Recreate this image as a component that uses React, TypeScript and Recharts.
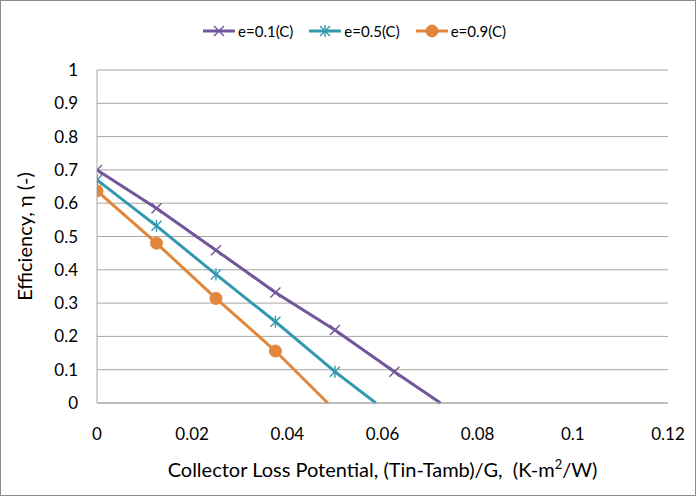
import React from 'react';
import { LineChart, Line, XAxis, YAxis, CartesianGrid, Legend, Label } from 'recharts';

const xPoints = [0, 0.0125, 0.025, 0.0375, 0.05, 0.0625];
const eff01 = [0.7, 0.585, 0.459, 0.332, 0.219, 0.094];
const eff05 = [0.67, 0.532, 0.386, 0.244, 0.094];
const eff09 = [0.637, 0.48, 0.314, 0.156];
const zeroX01 = 0.0722;
const zeroX05 = 0.0586;
const zeroX09 = 0.0485;
const xTicks = [0, 0.02, 0.04, 0.06, 0.08, 0.1, 0.12];
const yTicks = [0, 0.1, 0.2, 0.3, 0.4, 0.5, 0.6, 0.7, 0.8, 0.9, 1];
const seriesNames = ['e=0.1(C)', 'e=0.5(C)', 'e=0.9(C)'];
const seriesColors = ['#71579A', '#3399B0', '#E0873C'];
const markerKinds = ['cross', 'star', 'circle'];

const FONT = 'Lato, "Open Sans", sans-serif';

const build = (effs: number[], zeroX: number) => [
  ...effs.map((y, i) => ({ x: xPoints[i], y, marker: true })),
  { x: zeroX, y: 0, marker: false },
];

const data01 = build(eff01, zeroX01);
const data05 = build(eff05, zeroX05);
const data09 = build(eff09, zeroX09);
const allData = [data01, data05, data09];

const Marker = ({ kind, cx, cy, color }: { kind: string; cx: number; cy: number; color: string }) => {
  const s = 5;
  if (kind === 'circle') {
    return <circle cx={cx} cy={cy} r={6} fill={color} stroke={color} />;
  }
  return (
    <g stroke={color} strokeWidth={1.4} fill="none">
      <line x1={cx - s} y1={cy - s} x2={cx + s} y2={cy + s} />
      <line x1={cx - s} y1={cy + s} x2={cx + s} y2={cy - s} />
      {kind === 'star' && <line x1={cx} y1={cy - s - 1} x2={cx} y2={cy + s + 1} />}
    </g>
  );
};

const makeDot = (kind: string, color: string) => (props: any) => {
  const { cx, cy, payload, index } = props;
  if (!payload || !payload.marker || cx == null || cy == null) {
    return <g key={`d-${kind}-${index}`} />;
  }
  return (
    <g key={`d-${kind}-${index}`}>
      <Marker kind={kind} cx={cx} cy={cy} color={color} />
    </g>
  );
};

const LegendContent = () => (
  <div
    style={{
      display: 'flex',
      justifyContent: 'center',
      alignItems: 'center',
      fontFamily: FONT,
      fontSize: 15,
      color: '#000',
      paddingLeft: 12,
    }}
  >
    {seriesNames.map((name, i) => (
      <div key={name} style={{ display: 'flex', alignItems: 'center', marginRight: i < 2 ? 16 : 0 }}>
        <svg width={32} height={14} style={{ marginRight: 3 }}>
          <line x1={0} y1={7} x2={32} y2={7} stroke={seriesColors[i]} strokeWidth={3} />
          <Marker kind={markerKinds[i]} cx={16} cy={7} color={seriesColors[i]} />
        </svg>
        <span>{name}</span>
      </div>
    ))}
  </div>
);

const YTitle = (props: any) => {
  const vb = props.viewBox || { x: 0, y: 70, width: 97, height: 333 };
  const x = 24;
  const y = vb.y + vb.height / 2;
  return (
    <text
      x={x}
      y={y}
      transform={`rotate(-90, ${x}, ${y})`}
      textAnchor="middle"
      dominantBaseline="central"
      fontFamily={FONT}
      fontSize={20}
      fill="#000"
    >
      Efficiency, η (-)
    </text>
  );
};

const XTitle = (props: any) => {
  const vb = props.viewBox || { x: 97, y: 403, width: 571, height: 95 };
  const x = vb.x + vb.width / 2;
  const y = 477;
  return (
    <text x={x} y={y} textAnchor="middle" fontFamily={FONT} fontSize={20} fill="#000" style={{ whiteSpace: 'pre' }}>
      <tspan>{'Collector Loss Potential, (Tin-Tamb)/G,  (K-m'}</tspan>
      <tspan fontSize={13} dy={-8}>2</tspan>
      <tspan dy={8}>/W)</tspan>
    </text>
  );
};

export default function App() {
  return (
    <div style={{ position: 'absolute', left: 0, top: 0, width: 697, height: 498, background: '#fff' }}>
      <LineChart
        width={697}
        height={498}
        margin={{ top: 70, right: 29, bottom: 0, left: 0 }}
      >
        <CartesianGrid horizontal vertical={false} stroke="#A6A6A6" strokeWidth={1} />
        <XAxis
          type="number"
          dataKey="x"
          domain={[0, 0.12]}
          ticks={xTicks}
          allowDataOverflow
          height={95}
          tickLine={false}
          tickSize={0}
          tickMargin={25}
          axisLine={{ stroke: '#A6A6A6', strokeWidth: 1 }}
          tick={{ fontFamily: FONT, fontSize: 17, fill: '#000' }}
          tickFormatter={(v: number) => String(v)}
        >
          <Label content={<XTitle />} />
        </XAxis>
        <YAxis
          type="number"
          domain={[0, 1]}
          ticks={yTicks}
          width={97}
          tickLine={false}
          tickSize={0}
          tickMargin={19}
          axisLine={{ stroke: '#A6A6A6', strokeWidth: 1 }}
          tick={{ fontFamily: FONT, fontSize: 17, fill: '#000' }}
          tickFormatter={(v: number) => String(v)}
        >
          <Label content={<YTitle />} />
        </YAxis>
        <Legend
          verticalAlign="middle"
          align="center"
          layout="horizontal"
          content={<LegendContent />}
          wrapperStyle={{ position: 'absolute', top: 22, left: 0, width: 697 }}
        />
        {allData.map((d, i) => (
          <Line
            key={seriesNames[i]}
            data={d}
            dataKey="y"
            name={seriesNames[i]}
            type="linear"
            stroke={seriesColors[i]}
            strokeWidth={3}
            dot={makeDot(markerKinds[i], seriesColors[i])}
            activeDot={false}
            isAnimationActive={false}
          />
        ))}
      </LineChart>
      <div
        style={{
          position: 'absolute',
          left: 0,
          top: 0,
          width: 696,
          height: 496,
          border: '1px solid #8C8C8C',
          boxSizing: 'border-box',
          pointerEvents: 'none',
        }}
      />
    </div>
  );
}
